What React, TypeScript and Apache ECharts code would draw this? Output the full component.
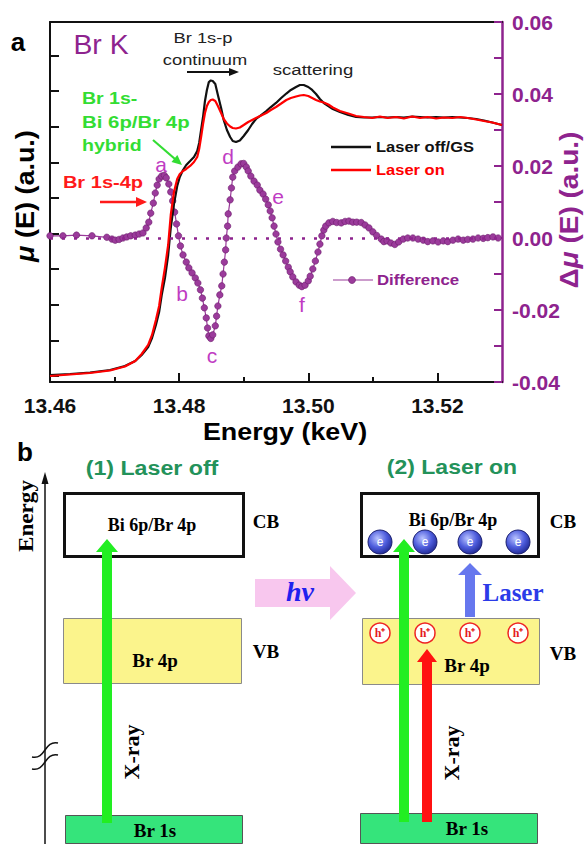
import React, { useEffect, useRef } from "react";
import * as echarts from "echarts";

// ---------- DATA ----------
const ENERGY_TICKS = [13.46, 13.48, 13.5, 13.52];
const ENERGY_MINOR_TICKS = [13.47, 13.49, 13.51];
const MU_TICKS = [0, 0.1, 0.2, 0.3, 0.4, 0.5, 0.6, 0.7, 0.8, 0.9];

const MU_E = [
  13.46, 13.4631, 13.4662, 13.4693, 13.4716, 13.4732, 13.4742, 13.4752, 13.4758, 13.4764,
  13.4769, 13.4773, 13.4778, 13.4783, 13.4787, 13.4792, 13.4797, 13.4801, 13.4806, 13.4811,
  13.4817, 13.4823, 13.4828, 13.4831, 13.4834, 13.4837, 13.484, 13.4843, 13.4846, 13.4849,
  13.4852, 13.4856, 13.486, 13.4865, 13.4869, 13.4874, 13.4879, 13.4883, 13.4888, 13.4894,
  13.49, 13.4907, 13.4913, 13.4919, 13.4927, 13.4935, 13.4942, 13.495, 13.4958, 13.4966,
  13.4973, 13.4981, 13.4987, 13.4993, 13.5, 13.5006, 13.5012, 13.5018, 13.5024, 13.5031,
  13.5038, 13.5049, 13.5062, 13.5074, 13.5086, 13.5099, 13.5111, 13.5123, 13.5136, 13.5148,
  13.5161, 13.5173, 13.5185, 13.5198, 13.521, 13.5223, 13.5235, 13.5247, 13.526, 13.5272,
  13.5285, 13.53,
];
const MU_LASER_OFF = [
  0.0028, 0.0056, 0.0098, 0.0169, 0.0281, 0.0421, 0.059, 0.0815, 0.1067, 0.1433,
  0.1798, 0.2275, 0.2753, 0.3399, 0.4157, 0.4831, 0.5337, 0.559, 0.5787, 0.5927,
  0.6039, 0.6152, 0.632, 0.6545, 0.691, 0.7275, 0.7725, 0.8034, 0.8258, 0.8301,
  0.8287, 0.8202, 0.7893, 0.7528, 0.7191, 0.691, 0.6713, 0.6601, 0.6573, 0.6615,
  0.6742, 0.691, 0.7079, 0.7219, 0.7331, 0.7444, 0.7556, 0.7669, 0.7809, 0.7935,
  0.8034, 0.8118, 0.8174, 0.8174, 0.8118, 0.8034, 0.7921, 0.7781, 0.7669, 0.7584,
  0.75, 0.7416, 0.7331, 0.7275, 0.7261, 0.7261, 0.7275, 0.7261, 0.7275, 0.7261,
  0.7289, 0.7275, 0.7261, 0.7275, 0.7261, 0.7275, 0.7261, 0.7247, 0.7219, 0.7177,
  0.7121, 0.7051,
];
const MU_LASER_ON = [
  0.0, 0.0042, 0.0084, 0.0154, 0.0267, 0.0421, 0.0618, 0.0871, 0.1152, 0.1573,
  0.1966, 0.2472, 0.3034, 0.368, 0.4522, 0.5169, 0.5534, 0.5674, 0.5758, 0.5815,
  0.5899, 0.6011, 0.6152, 0.6376, 0.6713, 0.7079, 0.7388, 0.7584, 0.7697, 0.7753,
  0.7767, 0.7725, 0.7584, 0.7388, 0.7219, 0.7093, 0.7008, 0.6966, 0.6952, 0.698,
  0.7051, 0.7135, 0.7191, 0.7247, 0.7317, 0.7388, 0.7472, 0.7556, 0.7654, 0.7753,
  0.7809, 0.7851, 0.7879, 0.7893, 0.7865, 0.7809, 0.7753, 0.7711, 0.7683, 0.7626,
  0.7542, 0.7444, 0.7374, 0.7303, 0.7275, 0.7247, 0.7289, 0.7247, 0.7275, 0.7233,
  0.7289, 0.7247, 0.7275, 0.7233, 0.7261, 0.7247, 0.7275, 0.7247, 0.7205, 0.7163,
  0.7121, 0.7051,
];

const DIFF_E = [
  13.46, 13.462, 13.4641, 13.4665, 13.4688, 13.4696, 13.4701, 13.4707, 13.4713, 13.4719,
  13.4725, 13.4732, 13.4738, 13.4744, 13.4749, 13.4753, 13.4756, 13.476, 13.4763, 13.4766,
  13.4769, 13.4773, 13.4777, 13.478, 13.4784, 13.4787, 13.479, 13.4793, 13.4796, 13.4799,
  13.4802, 13.4806, 13.4811, 13.4815, 13.482, 13.4825, 13.4829, 13.4833, 13.4836, 13.4839,
  13.4842, 13.4844, 13.4846, 13.4849, 13.4852, 13.4856, 13.4858, 13.486, 13.4863, 13.4866,
  13.4868, 13.487, 13.4872, 13.4873, 13.4875, 13.4876, 13.4879, 13.4881, 13.4883, 13.4886,
  13.4891, 13.4896, 13.49, 13.4904, 13.4907, 13.4911, 13.4916, 13.4921, 13.4925, 13.493,
  13.4934, 13.4938, 13.4941, 13.4944, 13.4947, 13.495, 13.4953, 13.4957, 13.4961, 13.4965,
  13.4969, 13.4972, 13.4976, 13.4981, 13.4986, 13.499, 13.4995, 13.5, 13.5003, 13.5007,
  13.5011, 13.5015, 13.5018, 13.5021, 13.5024, 13.5027, 13.5032, 13.5038, 13.5044, 13.5051,
  13.5057, 13.5063, 13.5069, 13.5075, 13.5082, 13.5088, 13.5094, 13.51, 13.5106, 13.5113,
  13.5117, 13.5122, 13.5128, 13.5134, 13.514, 13.5147, 13.5154, 13.5162, 13.517, 13.5178,
  13.5185, 13.5193, 13.5201, 13.5209, 13.5216, 13.5224, 13.5232, 13.524, 13.5247, 13.5255,
  13.5263, 13.5271, 13.5278, 13.5286, 13.5294,
];
const DIFF_VALUES = [
  0.0006, 0.0006, 0.0008, 0.0006, 0.0002, -0.0003, -0.0006, -0.0004, 0.0, 0.0003,
  0.0006, 0.0008, 0.0011, 0.0014, 0.0028, 0.0044, 0.0069, 0.0097, 0.0125, 0.0147,
  0.0164, 0.0172, 0.0174, 0.0167, 0.015, 0.0128, 0.0103, 0.0072, 0.0039, 0.0006,
  -0.0022, -0.0047, -0.0067, -0.0083, -0.0097, -0.0111, -0.0125, -0.0144, -0.0167, -0.0194,
  -0.0222, -0.025, -0.0272, -0.0279, -0.0269, -0.0244, -0.0217, -0.0189, -0.0158, -0.0133,
  -0.01, -0.0067, -0.0033, 0.0, 0.0033, 0.0067, 0.0106, 0.0139, 0.0169, 0.0186,
  0.0197, 0.0206, 0.0207, 0.0197, 0.0186, 0.0172, 0.0158, 0.0147, 0.0133, 0.0122,
  0.0108, 0.0092, 0.0075, 0.0056, 0.0033, 0.0011, -0.0011, -0.0031, -0.0047, -0.0064,
  -0.0081, -0.0094, -0.0108, -0.0122, -0.0131, -0.0135, -0.0131, -0.0119, -0.0106, -0.0086,
  -0.0064, -0.0039, -0.0017, 0.0006, 0.0022, 0.0033, 0.0042, 0.0046, 0.0043, 0.0042,
  0.0046, 0.0047, 0.0044, 0.0044, 0.0043, 0.0036, 0.0028, 0.0017, 0.0007, -0.0003,
  -0.001, -0.0008, -0.0014, -0.0018, -0.0011, -0.0003, 0.0, 0.0, -0.0003, -0.0006,
  -0.001, -0.0008, -0.0011, -0.0008, -0.001, -0.0006, -0.0003, -0.0006, -0.0004, -0.0003,
  0.0, -0.0001, 0.0001, 0.0003, 0.0,
];

// ---------- STYLE ----------
const PURPLE = "#8E238E";
const LETTER = "#C03CC3";
const SANS = "'Liberation Sans', Arial, Helvetica, sans-serif";
const SERIF = "'Liberation Serif', 'Times New Roman', serif";

type TOpt = {
  color?: string; size?: number; weight?: string; family?: string; italic?: boolean;
  align?: string; rot?: number; sx?: number; rich?: any;
};
const T = (text: string, x: number, y: number, o: TOpt = {}) => ({
  type: "text",
  x, y,
  rotation: o.rot || 0,
  scaleX: o.sx || 1,
  z: 100,
  silent: true,
  style: {
    text,
    fill: o.color || "#000",
    fontSize: o.size || 16,
    fontWeight: o.weight || "normal",
    fontFamily: o.family || SANS,
    fontStyle: o.italic ? "italic" : "normal",
    textAlign: o.align || "center",
    textVerticalAlign: "middle",
    align: o.align || "center",
    verticalAlign: "middle",
    rich: o.rich,
  },
});
const L = (x1: number, y1: number, x2: number, y2: number, stroke: string, w = 2) => ({
  type: "line", z: 90, silent: true,
  shape: { x1, y1, x2, y2 },
  style: { stroke, lineWidth: w },
});
const P = (points: number[][], fill: string, z = 90) => ({
  type: "polygon", z, silent: true, shape: { points }, style: { fill },
});
const R = (x: number, y: number, width: number, height: number, fill: string, stroke: string, w: number) => ({
  type: "rect", z: 80, silent: true, shape: { x, y, width, height }, style: { fill, stroke, lineWidth: w },
});
const C = (cx: number, cy: number, r: number, fill: any, stroke: string, w: number) => ({
  type: "circle", z: 95, silent: true, shape: { cx, cy, r }, style: { fill, stroke, lineWidth: w },
});
const arrowHead = (x1: number, y1: number, x2: number, y2: number, len: number, half: number) => {
  const dx = x2 - x1, dy = y2 - y1;
  const d = Math.hypot(dx, dy);
  const ux = dx / d, uy = dy / d;
  const bx = x2 - ux * len, by = y2 - uy * len;
  return {
    pts: [[x2, y2], [bx - uy * half, by + ux * half], [bx + uy * half, by - ux * half]],
    base: [bx, by],
  };
};
const Arrow = (x1: number, y1: number, x2: number, y2: number, color: string, w = 2, len = 10, half = 4.5) => {
  const h = arrowHead(x1, y1, x2, y2, len, half);
  return [L(x1, y1, h.base[0] + (x2 - x1) * 0.02, h.base[1] + (y2 - y1) * 0.02, color, w), P(h.pts, color, 91)];
};
// vertical block arrow pointing up
const BlockUp = (cx: number, yBottom: number, yTip: number, shaftW: number, headW: number, headH: number, fill: string) =>
  P([
    [cx - shaftW / 2, yBottom], [cx - shaftW / 2, yTip + headH], [cx - headW / 2, yTip + headH],
    [cx, yTip], [cx + headW / 2, yTip + headH], [cx + shaftW / 2, yTip + headH], [cx + shaftW / 2, yBottom],
  ], fill, 92);

const electron = (cx: number, cy: number) => [
  C(cx, cy, 12, new echarts.graphic.RadialGradient(0.4, 0.35, 0.7, [
    { offset: 0, color: "#b9c3ff" },
    { offset: 0.55, color: "#4d5cdc" },
    { offset: 1, color: "#1e268f" },
  ]), "#1a1f70", 1),
  T("e", cx, cy, { color: "#fff", size: 12, family: SANS }),
];
const hole = (cx: number, cy: number) => [
  C(cx, cy, 10, "#ffffff", "#ee2222", 1.5),
  T("h⁺", cx, cy, { color: "#e51c1c", size: 12, family: SERIF, weight: "bold" }),
];

function buildGraphics() {
  const g: any[] = [];
  // ---- panel a annotations ----
  g.push(T("a", 18, 42, { size: 26, weight: "bold" }));
  g.push(T("Br K", 101, 45, { size: 27, color: PURPLE, sx: 1.05 }));
  g.push(T("Br 1s-p", 203, 38, { size: 15.5, color: "#222", sx: 1.18 }));
  g.push(T("continuum", 205, 60, { size: 15.5, color: "#222", sx: 1.18 }));
  g.push(...Arrow(187, 72, 239, 72, "#111", 1.8, 10, 4));
  g.push(T("scattering", 313, 70, { size: 15.5, color: "#222", sx: 1.2 }));
  const GREEN = "#33DD33";
  g.push(T("Br 1s-", 82, 98, { size: 17, weight: "bold", color: GREEN, align: "left", sx: 1.15 }));
  g.push(T("Bi 6p/Br 4p", 82, 122, { size: 17, weight: "bold", color: GREEN, align: "left", sx: 1.2 }));
  g.push(T("hybrid", 82, 145, { size: 17, weight: "bold", color: GREEN, align: "left", sx: 1.15 }));
  g.push(...Arrow(153, 140, 182, 165, GREEN, 2.2, 10, 4.5));
  g.push(T("Br 1s-4p", 103, 182, { size: 17, weight: "bold", color: "#FF1A1A", sx: 1.18 }));
  g.push(...Arrow(100, 202, 147, 202, "#FF1A1A", 2.4, 11, 5));
  g.push(T("a", 161, 164, { size: 21, color: LETTER }));
  g.push(T("b", 182, 293, { size: 21, color: LETTER }));
  g.push(T("c", 212, 355, { size: 21, color: LETTER }));
  g.push(T("d", 228, 156, { size: 21, color: LETTER }));
  g.push(T("e", 278, 196, { size: 21, color: LETTER }));
  g.push(T("f", 302, 304, { size: 21, color: LETTER }));
  // legends
  g.push(L(331, 147, 371, 147, "#111", 2.5));
  g.push(T("Laser off/GS", 376, 147, { size: 15, weight: "bold", color: "#111", align: "left", sx: 1.1 }));
  g.push(L(331, 170, 371, 170, "#FF0000", 2.5));
  g.push(T("Laser on", 376, 170, { size: 15, weight: "bold", color: "#FF0000", align: "left", sx: 1.1 }));
  g.push(L(333, 280, 373, 280, "#9a3a9a", 1.2));
  g.push(C(352, 280, 3.5, "#9B3B9B", "#6B1B6B", 0.6));
  g.push(T("Difference", 377, 280, { size: 15, weight: "bold", color: PURPLE, align: "left", sx: 1.12 }));
  // axis names
  g.push(T("Energy (keV)", 285, 432, { size: 24, weight: "bold", sx: 1.12 }));
  g.push(T("{i|μ} (E) (a.u.)", 25, 196, {
    size: 25, weight: "bold", rot: Math.PI / 2, sx: 1.08,
    rich: { i: { fontStyle: "italic", fontWeight: "bold", fontSize: 25, fontFamily: SANS, fill: "#000" } },
  }));
  g.push(T("Δ{i|μ} (E) (a.u.)", 570, 210, {
    size: 25, weight: "bold", color: PURPLE, rot: Math.PI / 2, sx: 1.12,
    rich: { i: { fontStyle: "italic", fontWeight: "bold", fontSize: 25, fontFamily: SANS, fill: PURPLE } },
  }));

  // ---- panel b ----
  g.push(T("b", 25, 452, { size: 26, weight: "bold" }));
  const DKGREEN = "#23925A";
  g.push(T("(1) Laser off", 152, 468, { size: 20, weight: "bold", color: DKGREEN, sx: 1.16 }));
  g.push(T("(2) Laser on", 452, 467, { size: 20, weight: "bold", color: DKGREEN, sx: 1.15 }));
  // energy axis
  g.push(L(45, 844, 45, 482, "#111", 1.5));
  g.push(P([[41.5, 484], [45, 472], [48.5, 484]], "#111"));
  g.push(T("Energy", 26, 516, { size: 22, weight: "bold", family: SERIF, rot: Math.PI / 2, sx: 1.05 }));
  g.push({ type: "bezierCurve", z: 91, silent: true, shape: { x1: 32, y1: 757, cpx1: 46, cpy1: 760, cpx2: 44, cpy2: 740, x2: 58, y2: 743 }, style: { stroke: "#111", lineWidth: 1.5, fill: null } });
  g.push({ type: "bezierCurve", z: 91, silent: true, shape: { x1: 32, y1: 769, cpx1: 46, cpy1: 772, cpx2: 44, cpy2: 752, x2: 58, y2: 755 }, style: { stroke: "#111", lineWidth: 1.5, fill: null } });

  const YELLOW = "#FBF48C";
  const CORE = "#35E47B";
  // left column
  g.push(R(64.5, 493.5, 179, 63, "#fff", "#111", 3));
  g.push(T("Bi 6p/Br 4p", 152, 525, { size: 18, weight: "bold", family: SERIF }));
  g.push(T("CB", 266, 521, { size: 19, weight: "bold", family: SERIF }));
  g.push(R(63.5, 618.5, 178, 65, YELLOW, "#8a8a8a", 1));
  g.push(T("Br 4p", 155, 660, { size: 19, weight: "bold", family: SERIF }));
  g.push(T("VB", 266, 651, { size: 19, weight: "bold", family: SERIF }));
  g.push(R(65.5, 815.5, 177, 28, CORE, "#555", 1));
  g.push(T("Br 1s", 155, 830, { size: 19, weight: "bold", family: SERIF }));
  g.push(BlockUp(107, 823, 539, 10, 22, 13, "#22EE22"));
  g.push(T("X-ray", 131, 752, { size: 22, weight: "bold", family: SERIF, rot: Math.PI / 2 }));

  // hv arrow
  g.push(P([[255, 579], [330, 579], [330, 566], [356, 593], [330, 620], [330, 607], [255, 607]], "#F8C7EE", 85));
  g.push(T("hv", 300, 591, { size: 28, weight: "bold", italic: true, family: SERIF, color: "#2020EE" }));

  // right column
  g.push(R(361.5, 493.5, 177, 63, "#fff", "#111", 3));
  g.push(T("Bi 6p/Br 4p", 453, 520, { size: 18, weight: "bold", family: SERIF }));
  g.push(T("CB", 563, 521, { size: 19, weight: "bold", family: SERIF }));
  g.push(R(362.5, 618.5, 177, 66, YELLOW, "#8a8a8a", 1));
  g.push(T("Br 4p", 467, 665, { size: 19, weight: "bold", family: SERIF }));
  g.push(T("VB", 563, 653, { size: 19, weight: "bold", family: SERIF }));
  g.push(R(360.5, 813.5, 177, 30, CORE, "#555", 1));
  g.push(T("Br 1s", 467, 828, { size: 19, weight: "bold", family: SERIF }));
  [380, 425, 470, 518].forEach((cx) => g.push(...electron(cx, 542)));
  [380, 425, 470, 518].forEach((cx) => g.push(...hole(cx, 633)));
  g.push(BlockUp(404, 822, 539, 10, 22, 13, "#22EE22"));
  g.push(BlockUp(427, 822, 649, 10, 20, 13, "#FF1111"));
  g.push(BlockUp(470, 617, 563, 10, 24, 12, "#6677EE"));
  g.push(T("Laser", 513, 592, { size: 25, weight: "bold", family: SERIF, color: "#2B3BE8" }));
  g.push(T("X-ray", 451, 753, { size: 22, weight: "bold", family: SERIF, rot: Math.PI / 2 }));
  return g;
}

export default function App() {
  const ref = useRef<HTMLDivElement>(null);
  useEffect(() => {
    if (!ref.current) return;
    const chart = echarts.init(ref.current, null, { renderer: "svg" });
    const fmt2 = (v: number) => (Math.abs(v) < 1e-9 ? 0 : v).toFixed(2);
    const option: any = {
      animation: false,
      backgroundColor: "#ffffff",
      grid: { left: 50, right: 84, top: 22, bottom: 462, containLabel: false },
      xAxis: [
        {
          type: "value", position: "bottom", min: 13.46, max: 13.53,
          axisLine: { show: true, onZero: false, lineStyle: { color: "#111", width: 2 } },
          axisTick: { show: true, inside: true, length: 9, lineStyle: { color: "#111", width: 2 }, customValues: ENERGY_TICKS },
          axisLabel: {
            show: true, customValues: ENERGY_TICKS, margin: 13, formatter: fmt2,
            color: "#111", fontSize: 21, fontWeight: "bold", fontFamily: SANS,
          },
          splitLine: { show: false },
        },
        {
          type: "value", position: "bottom", min: 13.46, max: 13.53,
          axisLine: { show: false, onZero: false },
          axisTick: { show: true, inside: true, length: 5, lineStyle: { color: "#111", width: 2 }, customValues: ENERGY_MINOR_TICKS },
          axisLabel: { show: false },
          splitLine: { show: false },
        },
        {
          type: "value", position: "top", min: 13.46, max: 13.53,
          axisLine: { show: true, onZero: false, lineStyle: { color: "#111", width: 2 } },
          axisTick: { show: false }, axisLabel: { show: false }, splitLine: { show: false },
        },
      ],
      yAxis: [
        {
          type: "value", position: "left", min: -0.0169, max: 0.9944,
          axisLine: { show: true, onZero: false, lineStyle: { color: "#111", width: 2 } },
          axisTick: { show: true, inside: true, length: 9, lineStyle: { color: "#111", width: 2 }, customValues: MU_TICKS },
          axisLabel: { show: false },
          splitLine: { show: false },
        },
        {
          type: "value", position: "right", min: -0.04, max: 0.06, interval: 0.02,
          axisLine: { show: true, onZero: false, lineStyle: { color: PURPLE, width: 2.5 } },
          axisTick: { show: true, inside: true, length: 8, lineStyle: { color: PURPLE, width: 2 } },
          minorTick: { show: true, splitNumber: 2, length: 8, lineStyle: { color: PURPLE, width: 2 } },
          axisLabel: {
            show: true, margin: 10, formatter: fmt2, color: PURPLE,
            fontSize: 21, fontWeight: "bold", fontFamily: SANS,
          },
          splitLine: { show: false },
          minorSplitLine: { show: false },
        },
      ],
      series: [
        {
          name: "Difference", type: "line", xAxisIndex: 0, yAxisIndex: 1,
          data: DIFF_E.map((e, i) => [e, DIFF_VALUES[i]]),
          symbol: "circle", symbolSize: 6.5, showSymbol: true,
          lineStyle: { color: "#9a3a9a", width: 1.2 },
          itemStyle: { color: "#9B3B9B", borderColor: "#6B1B6B", borderWidth: 0.6 },
          markLine: {
            silent: true, symbol: ["none", "none"], label: { show: false },
            lineStyle: { color: PURPLE, width: 2.5, type: [3, 9] },
            data: [{ yAxis: 0 }],
          },
          z: 2,
        },
        {
          name: "Laser off/GS", type: "line", xAxisIndex: 0, yAxisIndex: 0,
          data: MU_E.map((e, i) => [e, MU_LASER_OFF[i]]),
          symbol: "none", showSymbol: false,
          lineStyle: { color: "#111", width: 2.2 }, z: 3,
        },
        {
          name: "Laser on", type: "line", xAxisIndex: 0, yAxisIndex: 0,
          data: MU_E.map((e, i) => [e, MU_LASER_ON[i]]),
          symbol: "none", showSymbol: false,
          lineStyle: { color: "#FF0000", width: 2.2 }, z: 4,
        },
      ],
      graphic: buildGraphics(),
    };
    chart.setOption(option);
    return () => chart.dispose();
  }, []);
  return (
    <div
      ref={ref}
      style={{ position: "absolute", left: 0, top: 0, width: 586, height: 844, background: "#fff" }}
    />
  );
}
